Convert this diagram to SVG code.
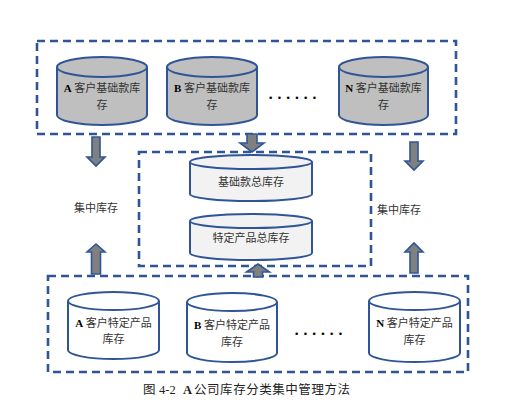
<svg xmlns="http://www.w3.org/2000/svg" width="522" height="407" viewBox="0 0 522 407">
<style>
.box{fill:none;stroke:#2F5597;stroke-width:2.6;stroke-dasharray:8 5}
.cyl{stroke:#2F5597;stroke-width:2}
.g1{fill:#BFBFBF}
.g2{fill:#F2F2F2}
.g3{fill:#FFFFFF}
.t{font-family:"Liberation Serif","Noto Sans CJK SC",serif;font-size:11px;fill:#333;text-anchor:middle}
.b{font-weight:bold;fill:#000}
.arr{fill:#808080;stroke:#2F5597;stroke-width:1.6;stroke-linejoin:miter}
.dots{font-family:"Liberation Sans",sans-serif;font-size:9.5px;fill:#000;letter-spacing:5.4px}
.cap{font-family:"Liberation Serif","Noto Sans CJK SC",serif;font-size:12.5px;fill:#222}
</style>
<rect width="522" height="407" fill="#fff"/>
<g id="top-group">
<rect class="box" x="37" y="41" width="419" height="93"/>
</g>
<g id="mid-group">
<rect class="box" x="139" y="152" width="232" height="114"/>
</g>
<g id="bottom-group">
<rect class="box" x="48" y="276" width="420" height="96"/>
</g>
<g id="a-base">
<path class="cyl g1" d="M57,67 V115 A45,10 0 0 0 147,115 V67"/>
<ellipse class="cyl g1" cx="102" cy="67" rx="45" ry="10"/>
<text class="t" x="102" y="92"><tspan class="b">A</tspan> 客户基础款库</text>
<text class="t" x="102" y="109">存</text>
</g>
<g id="b-base">
<path class="cyl g1" d="M167,67 V115 A45,10 0 0 0 257,115 V67"/>
<ellipse class="cyl g1" cx="212" cy="67" rx="45" ry="10"/>
<text class="t" x="212" y="92"><tspan class="b">B</tspan> 客户基础款库</text>
<text class="t" x="212" y="109">存</text>
</g>
<g id="top-dots">
<text class="dots" x="269" y="101">••••••</text>
</g>
<g id="n-base">
<path class="cyl g1" d="M339,67 V115 A44.5,10 0 0 0 428,115 V67"/>
<ellipse class="cyl g1" cx="383.5" cy="67" rx="44.5" ry="10"/>
<text class="t" x="383.5" y="92"><tspan class="b">N</tspan> 客户基础款库</text>
<text class="t" x="383.5" y="109">存</text>
</g>
<g id="base-total">
<path class="cyl g2" d="M190,162 V194 A61,7 0 0 0 312,194 V162"/>
<ellipse class="cyl g2" cx="251" cy="162" rx="61" ry="7"/>
<text class="t" x="251" y="186">基础款总库存</text>
</g>
<g id="special-total">
<path class="cyl g2" d="M190,221 V253 A61,7 0 0 0 312,253 V221"/>
<ellipse class="cyl g2" cx="251" cy="221" rx="61" ry="7"/>
<text class="t" x="251" y="242">特定产品总库存</text>
</g>
<g id="label-left">
<text class="t" x="96" y="212">集中库存</text>
</g>
<g id="label-right">
<text class="t" x="399" y="214">集中库存</text>
</g>
<g id="a-special">
<path class="cyl g3" d="M68,301 V350 A45.5,9 0 0 0 159,350 V301"/>
<ellipse class="cyl g3" cx="113.5" cy="301" rx="45.5" ry="9"/>
<text class="t" x="113.5" y="327"><tspan class="b">A</tspan> 客户特定产品</text>
<text class="t" x="113.5" y="343">库存</text>
</g>
<g id="b-special">
<path class="cyl g3" d="M187,302 V353 A45,9 0 0 0 277,353 V302"/>
<ellipse class="cyl g3" cx="232" cy="302" rx="45" ry="9"/>
<text class="t" x="232" y="329"><tspan class="b">B</tspan> 客户特定产品</text>
<text class="t" x="232" y="346">库存</text>
</g>
<g id="bottom-dots">
<text class="dots" x="295" y="337">••••••</text>
</g>
<g id="n-special">
<path class="cyl g3" d="M369,301 V353 A45.5,9 0 0 0 460,353 V301"/>
<ellipse class="cyl g3" cx="414.5" cy="301" rx="45.5" ry="9"/>
<text class="t" x="414.5" y="327"><tspan class="b">N</tspan> 客户特定产品</text>
<text class="t" x="414.5" y="344">库存</text>
</g>
<g id="connectors">
<polygon class="arr" points="92,137 100,137 100,157 105,157 96,166 87,157 92,157"/>
<polygon class="arr" points="91.5,274 100.5,274 100.5,252 105,252 96,244 87,252 91.5,252"/>
<polygon class="arr" points="247,134 257,134 257,143 264,143 252,152 240,143 247,143"/>
<polygon class="arr" points="253.5,277 262.5,277 262.5,272 269.5,272 258,264 246.5,272 253.5,272"/>
<polygon class="arr" points="410,142 418,142 418,161 423,161 414,170 405,161 410,161"/>
<polygon class="arr" points="410,273 418,273 418,252 423,252 414,243 405,252 410,252"/>
</g>
<g id="caption">
<text class="cap" y="394"><tspan x="143">图</tspan><tspan x="159">4-2</tspan><tspan x="183" font-weight="bold">A</tspan><tspan x="194" textLength="156" lengthAdjust="spacing">公司库存分类集中管理方法</tspan></text>
</g>
</svg>
